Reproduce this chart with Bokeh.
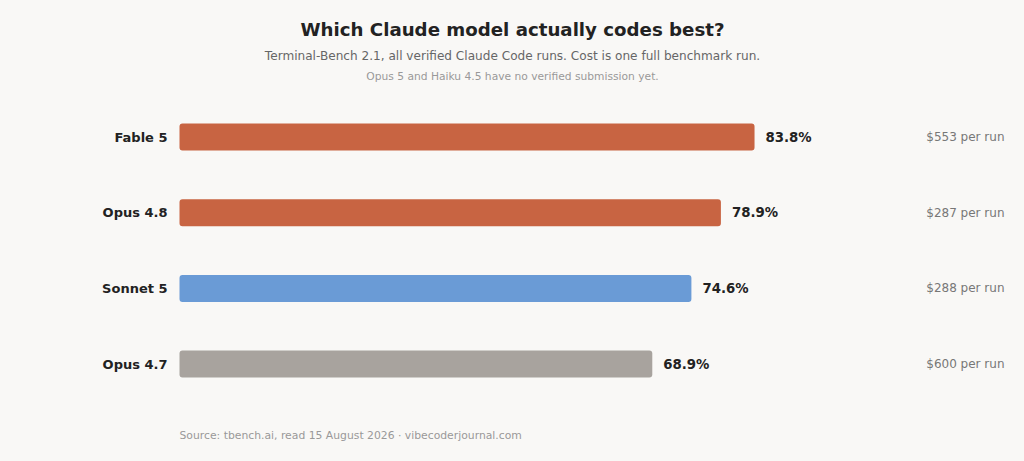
from bokeh.plotting import figure
from bokeh.models import ColumnDataSource, Range1d
from bokeh.core.properties import value
from bokeh.embed import file_html
from bokeh.resources import INLINE

# ---- data ----
models = ["Fable 5", "Opus 4.8", "Sonnet 5", "Opus 4.7"]
scores = [83.8, 78.9, 74.6, 68.9]
costs = [553, 287, 288, 600]
colors = ["#c86442", "#c86442", "#6a9bd6", "#a8a39e"]

title = "Which Claude model actually codes best?"
subtitle = "Terminal-Bench 2.1, all verified Claude Code runs. Cost is one full benchmark run."
note = "Opus 5 and Haiku 4.5 have no verified submission yet."
source = "Source: tbench.ai, read 15 August 2026 \u00b7 vibecoderjournal.com"

BG = "#f9f8f6"
FONT = "DejaVu Sans"

W, H = 1008, 445
# pixel geometry (within figure)
x0_px = 179.0          # where score 0 sits
px_per_unit = 6.862
y0_px = 136.5          # center of first bar
row_px = 75.7

x_start = -x0_px / px_per_unit
x_end = (W - x0_px) / px_per_unit
y_top = -y0_px / row_px
y_bot = (H - y0_px) / row_px

p = figure(width=W, height=H, output_backend="svg", toolbar_location=None,
           x_range=Range1d(x_start, x_end), y_range=Range1d(y_bot, y_top),
           min_border=0, background_fill_color=BG, border_fill_color=BG,
           outline_line_color=None)
p.axis.visible = False
p.grid.visible = False

ypos = list(range(len(models)))
src = ColumnDataSource(dict(
    y=ypos, model=models, score=scores, color=colors,
    score_lbl=[f"{s:.1f}%" for s in scores],
    cost_lbl=[f"${c} per run" for c in costs],
))

p.hbar(y="y", left=0, right="score", height=27 / row_px, color="color",
       line_color=None, border_radius=3, source=src)

p.text(x=0, y="y", text="model", source=src, x_offset=-12,
       text_align="right", text_baseline="middle",
       text_font=value(FONT), text_font_style="bold",
       text_font_size="13px", text_color="#222222")

p.text(x="score", y="y", text="score_lbl", source=src, x_offset=11,
       text_align="left", text_baseline="middle",
       text_font=value(FONT), text_font_style="bold",
       text_font_size="13.3px", text_color="#222222")

cost_x = (1004 - x0_px) / px_per_unit
p.text(x=cost_x, y="y", text="cost_lbl", source=src,
       text_align="right", text_baseline="middle",
       text_font=value(FONT), text_font_size="12px", text_color="#777777")

# header / footer texts
cx = (512 - x0_px) / px_per_unit
def ypx(py):
    return (py - y0_px) / row_px

p.text(x=[cx], y=[ypx(29)], text=[title], text_align="center",
       text_baseline="middle", text_font=value(FONT), text_font_style="bold",
       text_font_size="18.2px", text_color="#222222")
p.text(x=[cx], y=[ypx(55.5)], text=[subtitle], text_align="center",
       text_baseline="middle", text_font=value(FONT),
       text_font_size="12.1px", text_color="#666666")
p.text(x=[cx], y=[ypx(76)], text=[note], text_align="center",
       text_baseline="middle", text_font=value(FONT),
       text_font_size="10.7px", text_color="#999999")
p.text(x=[0], y=[ypx(435)], text=[source], text_align="left",
       text_baseline="middle", text_font=value(FONT),
       text_font_size="10.8px", text_color="#999999")

html = file_html(p, INLINE)
html = html.replace("<body>", f'<body style="background:{BG};">')
open("out.html", "w").write(html)
